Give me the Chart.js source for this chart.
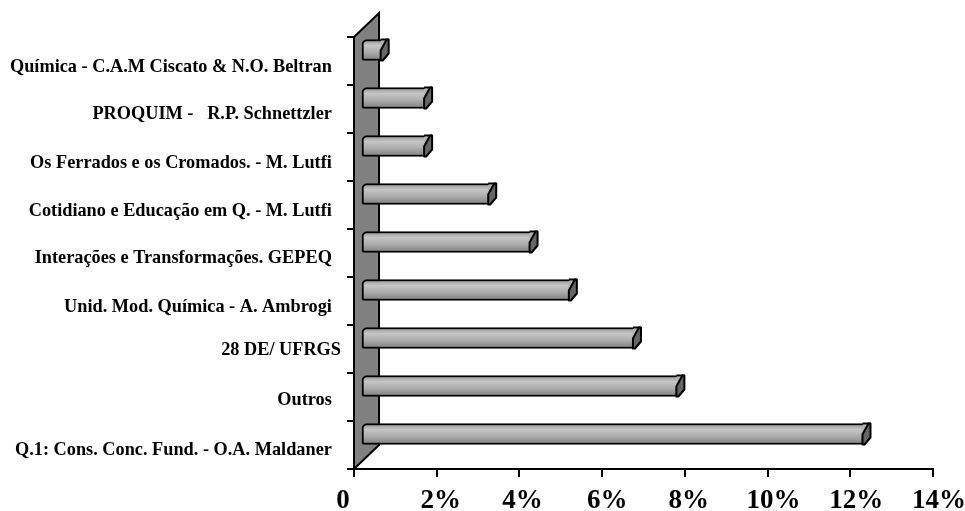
<!DOCTYPE html>
<html>
<head>
<meta charset="utf-8">
<style>
  html, body { margin: 0; background: #fff; }
  #wrap { width: 965px; height: 511px; }
</style>
<script src="https://cdn.jsdelivr.net/npm/chart.js@4"></script>
</head>
<body>
<div id="wrap"><canvas id="chart"></canvas></div>
<script>
// top to bottom, trailing spaces are in the original labels
const categories = [
  "Química - C.A.M Ciscato & N.O. Beltran  ",
  "PROQUIM -   R.P. Schnettzler  ",
  "Os Ferrados e os Cromados. - M. Lutfi  ",
  "Cotidiano e Educação em Q. - M. Lutfi  ",
  "Interações e Transformações. GEPEQ  ",
  "Unid. Mod. Química - A. Ambrogi  ",
  "28 DE/ UFRGS",
  "Outros  ",
  "Q.1: Cons. Conc. Fund. - O.A. Maldaner  "
];
const percentages = [0.5, 1.55, 1.55, 3.1, 4.1, 5.05, 6.6, 7.65, 12.15];
const xTicks = [0, 2, 4, 6, 8, 10, 12, 14];

// small shifts of the tick labels, the original is not quite regular
const catLabelDy = [6, 5, 6, 6, 5, 6, 1, 3, 5];
const xLabelDx = [-11, 4, 3, 5, 4, 6, 6, 6];

const DEPTH_X = 25, DEPTH_Y = 24;   // side wall
const BAR_DX = 7, BAR_DY = -11;     // bars sit a bit inside the wall
const BAR_H = 21;

function barGradient(c) {
  const y = c.chart.scales.y.getPixelForValue(c.dataIndex);
  if (!Number.isFinite(y)) return "#b4b4b4";
  const g = c.chart.ctx.createLinearGradient(0, y - BAR_H / 2, 0, y + BAR_H / 2);
  g.addColorStop(0, "#909090");
  g.addColorStop(0.28, "#c4c4c4");
  g.addColorStop(0.55, "#b2b2b2");
  g.addColorStop(1, "#7e7e7e");
  return g;
}

const look3d = {
  id: "look3d",
  beforeDraw(chart) {
    if (chart.$nudged) return;
    chart.$nudged = true;
    chart.scales.y.getLabelItems().forEach((it, i) => { it.options.translation[1] += catLabelDy[i]; });
    chart.scales.x.getLabelItems().forEach((it, i) => { it.options.translation[0] += xLabelDx[i]; });
  },
  beforeDatasetsDraw(chart) {
    const { ctx, chartArea: a } = chart;
    ctx.save();
    ctx.beginPath();
    ctx.moveTo(a.left, a.top);
    ctx.lineTo(a.left + DEPTH_X, a.top - DEPTH_Y);
    ctx.lineTo(a.left + DEPTH_X, a.bottom - DEPTH_Y);
    ctx.lineTo(a.left, a.bottom);
    ctx.closePath();
    ctx.fillStyle = "#808080";
    ctx.fill();
    ctx.lineWidth = 2;
    ctx.strokeStyle = "#000";
    ctx.stroke();
    ctx.restore();
    ctx.save();
    ctx.translate(BAR_DX, BAR_DY);
  },
  afterDatasetsDraw(chart) {
    const { ctx } = chart;
    ctx.lineWidth = 2;
    ctx.lineJoin = "round";
    ctx.strokeStyle = "#000";
    // end cap of each bar, slanted like the original
    chart.getDatasetMeta(0).data.forEach((el) => {
      const t = el.y - BAR_H / 2, b = el.y + BAR_H / 2, x = el.x;
      ctx.beginPath();
      ctx.moveTo(x - 1, t + 1);
      ctx.lineTo(x + 6, t + 1);
      ctx.lineTo(x, b - 1);
      ctx.lineTo(x - 1, b - 1);
      ctx.closePath();
      ctx.fillStyle = "#b2b2b2";
      ctx.fill();
      ctx.beginPath();
      ctx.moveTo(x - 1, t);
      ctx.lineTo(x + 7, t);
      ctx.stroke();
      ctx.beginPath();
      ctx.moveTo(x + 5, t);
      ctx.lineTo(x + 7, t);
      ctx.lineTo(x + 7, t + 14);
      ctx.lineTo(x + 1, b);
      ctx.lineTo(x - 1, b);
      ctx.lineTo(x - 1, t + 11);
      ctx.closePath();
      ctx.fillStyle = "#666";
      ctx.fill();
      ctx.stroke();
    });
    ctx.restore();
  }
};

new Chart(document.getElementById("chart"), {
  type: "bar",
  plugins: [look3d],
  data: {
    labels: categories,
    datasets: [{
      data: percentages,
      backgroundColor: barGradient,
      borderColor: "#000",
      borderWidth: 2,
      borderSkipped: "end",
      borderRadius: { topLeft: 5, bottomLeft: 2, topRight: 0, bottomRight: 0 },
      barThickness: BAR_H
    }]
  },
  options: {
    indexAxis: "y",
    responsive: true,
    maintainAspectRatio: false,
    animation: false,
    layout: { padding: { top: 37, right: 32, left: 0, bottom: 0 } },
    plugins: { legend: { display: false }, tooltip: { enabled: false } },
    scales: {
      x: {
        min: 0,
        max: 14,
        afterBuildTicks: (s) => { s.ticks = xTicks.map((v) => ({ value: v })); },
        afterFit: (s) => { s.height = 42; s.paddingLeft = 0; s.paddingRight = 0; },
        border: { color: "#000", width: 2 },
        grid: { drawOnChartArea: false, color: "#000", lineWidth: 2, tickLength: 8 },
        ticks: {
          color: "#000",
          padding: 8,
          maxRotation: 0,
          font: { family: "Liberation Serif", size: 27, weight: "bold" },
          callback: (v) => (v === 0 ? "0" : v + "%")
        }
      },
      y: {
        afterFit: (s) => { s.width = 354; },
        border: { color: "#000", width: 2 },
        grid: { drawOnChartArea: false, color: "#000", lineWidth: 2, tickLength: 7 },
        ticks: {
          color: "#000",
          padding: 6,
          autoSkip: false,
          font: { family: "Liberation Serif", size: 18.3, weight: "bold" }
        }
      }
    }
  }
});
</script>
</body>
</html>
